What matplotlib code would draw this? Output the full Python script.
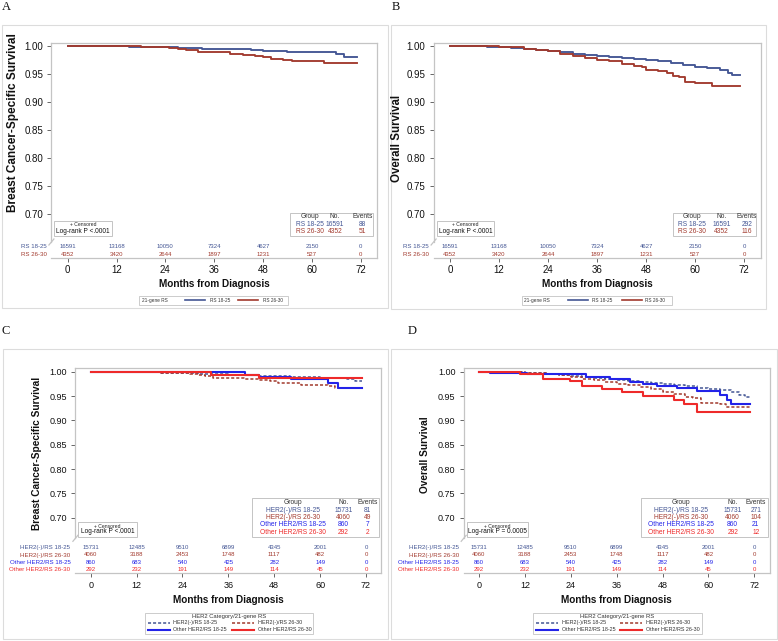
import matplotlib
matplotlib.use('Agg')
import matplotlib.pyplot as plt
import matplotlib.transforms as mtransforms
from matplotlib.lines import Line2D
from matplotlib.patches import Rectangle

plt.rcParams['font.family'] = ['Liberation Sans', 'DejaVu Sans']

W, H = 778, 641
fig = plt.figure(figsize=(W / 100, H / 100), dpi=100)

# ------------------------------------------------------------------ data
month_ticks = [0, 12, 24, 36, 48, 60, 72]
surv_ticks = [0.70, 0.75, 0.80, 0.85, 0.90, 0.95, 1.00]

groups_ab = ['RS 18-25', 'RS 26-30']
groups_cd = ['HER2(-)/RS 18-25', 'HER2(-)/RS 26-30',
             'Other HER2/RS 18-25', 'Other HER2/RS 26-30']

risk_rs1825 = [16591, 13168, 10050, 7324, 4627, 2150, 0]
risk_rs2630 = [4352, 3420, 2644, 1897, 1231, 527, 0]
risk_neg1825 = [15731, 12485, 9510, 6899, 4345, 2001, 0]
risk_neg2630 = [4060, 3188, 2453, 1748, 1117, 482, 0]
risk_oth1825 = [860, 683, 540, 425, 282, 149, 0]
risk_oth2630 = [292, 232, 191, 149, 114, 45, 0]

events_a = [88, 51]
events_b = [292, 116]
events_c = [81, 49, 7, 2]
events_d = [271, 104, 21, 12]

logrank_a = 'Log-rank P <.0001'
logrank_b = 'Log-rank P <.0001'
logrank_c = 'Log-rank P <.0001'
logrank_d = 'Log-rank P = 0.0005'

# Panel A (breast cancer-specific survival)
a_t_1825 = [0, 6, 9, 15, 18, 24, 27, 33, 39, 45, 48, 51, 54, 60, 66, 68, 71]
a_s_1825 = [1.000, 0.9995, 0.999, 0.9985, 0.998, 0.997, 0.996, 0.995, 0.994,
            0.993, 0.991, 0.990, 0.989, 0.988, 0.986, 0.980, 0.980]
a_t_2630 = [0, 6, 12, 18, 22, 25, 27, 29, 32, 36, 40, 43, 46, 48, 50, 53, 55, 61, 63, 71]
a_s_2630 = [1.000, 0.9995, 0.999, 0.998, 0.997, 0.996, 0.994, 0.992, 0.989, 0.988,
            0.986, 0.984, 0.982, 0.979, 0.977, 0.975, 0.973, 0.972, 0.970, 0.970]

# Panel B (overall survival)
b_t_1825 = [0, 3, 6, 9, 12, 15, 18, 21, 24, 27, 30, 33, 36, 39, 42, 45, 48, 51,
            54, 57, 60, 63, 66, 68, 69, 71]
b_s_1825 = [1.000, 0.9995, 0.999, 0.998, 0.997, 0.996, 0.995, 0.993, 0.990, 0.988,
            0.986, 0.984, 0.982, 0.980, 0.978, 0.976, 0.974, 0.972, 0.969, 0.966,
            0.962, 0.960, 0.957, 0.952, 0.947, 0.947]
b_t_2630 = [0, 6, 12, 18, 21, 24, 27, 30, 33, 36, 39, 42, 45, 47, 48, 51, 53, 54.5,
            56, 57.5, 60, 63, 64, 71]
b_s_2630 = [1.000, 0.999, 0.997, 0.995, 0.993, 0.990, 0.986, 0.982, 0.978, 0.975,
            0.972, 0.967, 0.964, 0.962, 0.957, 0.954, 0.951, 0.946, 0.944, 0.936,
            0.934, 0.933, 0.928, 0.928]

# Panel C (breast cancer-specific survival by HER2 category)
c_t_neg1825 = [0, 6, 12, 18, 24, 28, 32, 36, 40, 44, 48, 52, 56, 60, 64, 67, 69, 71]
c_s_neg1825 = [1.000, 0.9995, 0.999, 0.998, 0.997, 0.996, 0.995, 0.994, 0.993,
               0.992, 0.991, 0.990, 0.989, 0.988, 0.987, 0.984, 0.981, 0.981]
c_t_neg2630 = [0, 12, 18, 24, 26, 28, 30, 32, 36, 40, 44, 47, 49, 52, 55, 58, 62, 64, 71]
c_s_neg2630 = [1.000, 0.999, 0.998, 0.997, 0.995, 0.993, 0.991, 0.988, 0.987, 0.985,
               0.983, 0.980, 0.977, 0.976, 0.973, 0.972, 0.970, 0.967, 0.967]
c_t_oth1825 = [0, 40.3, 44, 52.5, 62, 64.8, 71]
c_s_oth1825 = [1.000, 0.994, 0.989, 0.986, 0.977, 0.966, 0.966]
c_t_oth2630 = [0, 31.5, 44, 71]
c_s_oth2630 = [1.000, 0.994, 0.988, 0.988]

# Panel D (overall survival by HER2 category)
d_t_neg1825 = [0, 6, 12, 18, 21, 24, 27, 30, 33, 36, 39, 42, 45, 48, 51, 54, 57,
               60, 63, 66, 68, 69.5, 71]
d_s_neg1825 = [1.000, 0.999, 0.997, 0.995, 0.993, 0.991, 0.989, 0.987, 0.985, 0.983,
               0.981, 0.979, 0.977, 0.975, 0.973, 0.971, 0.967, 0.964, 0.962, 0.958,
               0.953, 0.948, 0.948]
d_t_neg2630 = [0, 6, 12, 18, 21, 24, 27, 30, 33, 36, 39, 42, 45, 48, 51, 54, 56,
               58, 61, 63, 64.5, 71]
d_s_neg2630 = [1.000, 0.999, 0.997, 0.995, 0.993, 0.990, 0.986, 0.982, 0.978, 0.975,
               0.972, 0.968, 0.965, 0.958, 0.955, 0.949, 0.946, 0.936, 0.935, 0.933,
               0.928, 0.928]
d_t_oth1825 = [0, 3, 12.5, 28, 34.3, 39.5, 43, 46.5, 51.8, 57, 63, 64.9, 66, 71]
d_s_oth1825 = [1.000, 0.998, 0.995, 0.990, 0.985, 0.979, 0.974, 0.970, 0.967,
               0.960, 0.953, 0.942, 0.933, 0.933]
d_t_oth2630 = [0, 10.7, 16.8, 23.8, 26.9, 32.1, 37.4, 43, 50.9, 53.5, 57, 71]
d_s_oth2630 = [1.000, 0.995, 0.986, 0.981, 0.971, 0.964, 0.959, 0.950, 0.942,
               0.933, 0.917, 0.917]

# ------------------------------------------------------------------ styles
BLUE1 = '#445694'
RED1 = '#A23A2E'
BLUE2 = '#2323E8'
RED2 = '#EE2A2A'
FRAME = '#c4c4c4'
DASH = (0, (2.0, 1.3))

style_ab = [dict(color=BLUE1, ls='-', lw=1.35), dict(color=RED1, ls='-', lw=1.35)]
style_cd = [dict(color=BLUE1, ls=DASH, lw=1.1), dict(color=RED1, ls=DASH, lw=1.1),
            dict(color=BLUE2, ls='-', lw=1.5), dict(color=RED2, ls='-', lw=1.5)]


def fxy(x, y):
    return x / W, 1 - y / H


def ftext(x, y, s, **kw):
    fig.text(x / W, 1 - y / H, s, **kw)


def frect(x0, y0, x1, y1, ec=FRAME, lw=0.7, fc='none', z=3):
    fig.patches.append(Rectangle(fxy(x0, y1), (x1 - x0) / W, (y1 - y0) / H,
                                 transform=fig.transFigure, fill=(fc != 'none'),
                                 fc=fc if fc != 'none' else 'white',
                                 ec=ec, lw=lw, zorder=z))


def fline(x0, x1, y, **kw):
    fig.lines.append(Line2D([x0 / W, x1 / W], [1 - y / H, 1 - y / H],
                            transform=fig.transFigure, **kw))


# outer panel frames
for (x0, y0, x1, y1) in [(2, 25, 388, 308), (391, 25, 766, 309),
                         (3, 349, 388, 639), (391, 349, 777, 639)]:
    frect(x0, y0, x1, y1, ec='#dcdcdc', lw=0.8)


def panel(L, R, T, B, ylo, yhi, brk, curves, styles, names, risks, risk_y,
          events, grp_box, grp_cols, grp_y, cens_box, cens_y, logrank,
          ylab, ylab_fs, ylab_x, ylab_y, xlab_y, tick_fs, xpad, letter, letter_xy):
    ax = fig.add_axes([L / W, 1 - B / H, (R - L) / W, (B - T) / H])
    ax.set_xlim(-4, 76)
    ax.set_ylim(ylo, yhi)
    for sp in ax.spines.values():
        sp.set_color(FRAME)
        sp.set_linewidth(0.9)
    ax.spines['left'].set_bounds(brk, yhi)
    ax.set_yticks(surv_ticks)
    ax.set_yticklabels([f'{v:.2f}' for v in surv_ticks])
    ax.set_xticks(month_ticks)
    ax.set_xticklabels([str(m) for m in month_ticks])
    ax.tick_params(axis='both', direction='out', length=3, width=0.7,
                   color='#666666', labelsize=tick_fs, labelcolor='#111111')
    ax.tick_params(axis='y', pad=3)
    ax.tick_params(axis='x', pad=xpad)

    for (t, s), st in zip(curves, styles):
        ax.step(t, s, where='post', color=st['color'], linestyle=st['ls'],
                lw=st['lw'], zorder=4)

    # axis break mark
    ybp = T + (yhi - brk) / (yhi - ylo) * (B - T)
    fig.lines.append(Line2D([(L - 2.5) / W, (L + 2.5) / W],
                            [1 - (ybp + 3) / H, 1 - (ybp - 3) / H],
                            transform=fig.transFigure, color=FRAME, lw=0.9))

    # at-risk table
    tr = mtransforms.blended_transform_factory(ax.transData, fig.transFigure)
    for name, vals, yy, st in zip(names, risks, risk_y, styles):
        ftext(L - 5, yy, name, ha='right', va='center', fontsize=4.4,
              color=st['color'])
        for m, v in zip(month_ticks, vals):
            ax.text(m, 1 - yy / H, str(v), transform=tr, ha='center',
                    va='center', fontsize=4.3, color=st['color'])

    # group table
    gx0, gy0, gx1, gy1 = grp_box
    frect(gx0, gy0, gx1, gy1, ec=FRAME, lw=0.7, fc='white')
    ftext(grp_cols[0], grp_y[0], 'Group', ha='center', va='center',
          fontsize=4.8, color='#333333', zorder=5)
    ftext(grp_cols[1], grp_y[0], 'No.', ha='center', va='center',
          fontsize=4.8, color='#333333', zorder=5)
    ftext(grp_cols[2], grp_y[0], 'Events', ha='center', va='center',
          fontsize=4.8, color='#333333', zorder=5)
    for name, vals, ev, yy, st in zip(names, risks, events, grp_y[1:], styles):
        ftext(grp_cols[0], yy, name, ha='center', va='center', fontsize=4.8,
              color=st['color'], zorder=5)
        ftext(grp_cols[1], yy, str(vals[0]), ha='center', va='center',
              fontsize=4.8, color=st['color'], zorder=5)
        ftext(grp_cols[2], yy, str(ev), ha='center', va='center',
              fontsize=4.8, color=st['color'], zorder=5)

    # censored / log-rank box
    cx0, cy0, cx1, cy1 = cens_box
    frect(cx0, cy0, cx1, cy1, ec=FRAME, lw=0.7, fc='white')
    ftext((cx0 + cx1) / 2, cens_y[0], '+ Censored', ha='center', va='center',
          fontsize=3.6, color='#222222', zorder=5)
    ftext((cx0 + cx1) / 2, cens_y[1], logrank, ha='center', va='center',
          fontsize=4.7, color='#111111', zorder=5)

    # axis labels
    ftext(ylab_x, ylab_y, ylab, rotation=90, ha='center', va='center',
          fontsize=ylab_fs, fontweight='bold', color='#111111')
    ftext((L + R) / 2, xlab_y, 'Months from Diagnosis', ha='center',
          va='center', fontsize=7.2, fontweight='bold', color='#111111')
    ftext(letter_xy[0], letter_xy[1], letter, ha='center', va='center',
          fontsize=9, family='Liberation Serif', color='#111111')
    return ax


# ---------------- Panel A
panel(51.4, 377.0, 42.7, 258.3, 0.6204, 1.0054, 0.6495,
      [(a_t_1825, a_s_1825), (a_t_2630, a_s_2630)], style_ab, groups_ab,
      [risk_rs1825, risk_rs2630], [246.7, 254.0], events_a,
      (290, 213, 373.3, 236), (310, 335, 362.3), [217, 224.3, 231.7],
      (54.3, 221, 111.7, 236), (225, 231.7), logrank_a,
      'Breast Cancer-Specific Survival', 8.5, 13.3, 123, 284, 7.0, 1.8,
      'A', (6.7, 7.3))

# ---------------- Panel B
panel(433.6, 760.6, 42.7, 258.3, 0.6204, 1.0054, 0.6495,
      [(b_t_1825, b_s_1825), (b_t_2630, b_s_2630)], style_ab, groups_ab,
      [risk_rs1825, risk_rs2630], [246.7, 254.0], events_b,
      (672.7, 213, 755.7, 236), (691.7, 721.7, 746.7), [217, 224.3, 231.7],
      (437.3, 221, 494, 236), (225, 231.7), logrank_b,
      'Overall Survival', 8.3, 397, 138, 284, 7.0, 1.8,
      'B', (396, 7.3))

# ---------------- Panel C
panel(75.4, 381.3, 368.3, 573.3, 0.5858, 1.007, 0.6577,
      [(c_t_neg1825, c_s_neg1825), (c_t_neg2630, c_s_neg2630),
       (c_t_oth1825, c_s_oth1825), (c_t_oth2630, c_s_oth2630)],
      style_cd, groups_cd,
      [risk_neg1825, risk_neg2630, risk_oth1825, risk_oth2630],
      [547.7, 555.0, 562.3, 569.5], events_c,
      (252, 498, 379, 537), (292.7, 343.3, 367.7),
      [502.7, 510, 517.3, 524.7, 532.3],
      (78, 522, 137, 537), (526, 531.7), logrank_c,
      'Breast Cancer-Specific Survival', 7.3, 37, 453.7, 600, 6.5, 2.6,
      'C', (6, 331))

# ---------------- Panel D
panel(463.7, 769.6, 368.3, 573.3, 0.5858, 1.007, 0.6577,
      [(d_t_neg1825, d_s_neg1825), (d_t_neg2630, d_s_neg2630),
       (d_t_oth1825, d_s_oth1825), (d_t_oth2630, d_s_oth2630)],
      style_cd, groups_cd,
      [risk_neg1825, risk_neg2630, risk_oth1825, risk_oth2630],
      [547.7, 555.0, 562.3, 569.5], events_d,
      (640.7, 498, 767.7, 537), (680.7, 732.7, 755.7),
      [502.7, 510, 517.3, 524.7, 532.3],
      (466.7, 521.7, 528.3, 536.7), (526, 531.7), logrank_d,
      'Overall Survival', 7.3, 425, 455, 600, 6.5, 2.6,
      'D', (411.7, 331))

# ---------------- legends (A/B)
for (bx0, bx1, tx, l1, t1, l2, t2) in [
        (139, 288, 142, (185, 205), 210, (238, 258), 263),
        (521.7, 671.7, 524.5, (568.3, 588.3), 591.7, (621.7, 641.7), 645)]:
    frect(bx0, 296, bx1, 304.5, ec=FRAME, lw=0.6)
    ftext(tx, 300.2, '21-gene RS', ha='left', va='center', fontsize=3.4,
          color='#333333')
    fline(l1[0], l1[1], 300.2, color=BLUE1, lw=1.2)
    ftext(t1, 300.2, groups_ab[0], ha='left', va='center', fontsize=3.4,
          color='#333333')
    fline(l2[0], l2[1], 300.2, color=RED1, lw=1.2)
    ftext(t2, 300.2, groups_ab[1], ha='left', va='center', fontsize=3.4,
          color='#333333')

# ---------------- legends (C/D)
for (bx0, bx1, tcx, c1, c2) in [(145, 313, 229.3, 147.7, 232),
                                (533.3, 701.7, 617.5, 536, 620)]:
    frect(bx0, 612.5, bx1, 634, ec=FRAME, lw=0.6)
    ftext(tcx, 616.3, 'HER2 Category/21-gene RS', ha='center', va='center',
          fontsize=4.2, color='#333333')
    entries = [(c1, 622.9, 0), (c2, 622.9, 1), (c1, 629.5, 2), (c2, 629.5, 3)]
    for (cx, yy, k) in entries:
        st = style_cd[k]
        fline(cx, cx + 22, yy, color=st['color'], ls=st['ls'], lw=st['lw'])
        ftext(cx + 25.5, yy, groups_cd[k], ha='left', va='center',
              fontsize=3.9, color='#333333')

fig.savefig('out.png', dpi=100)
